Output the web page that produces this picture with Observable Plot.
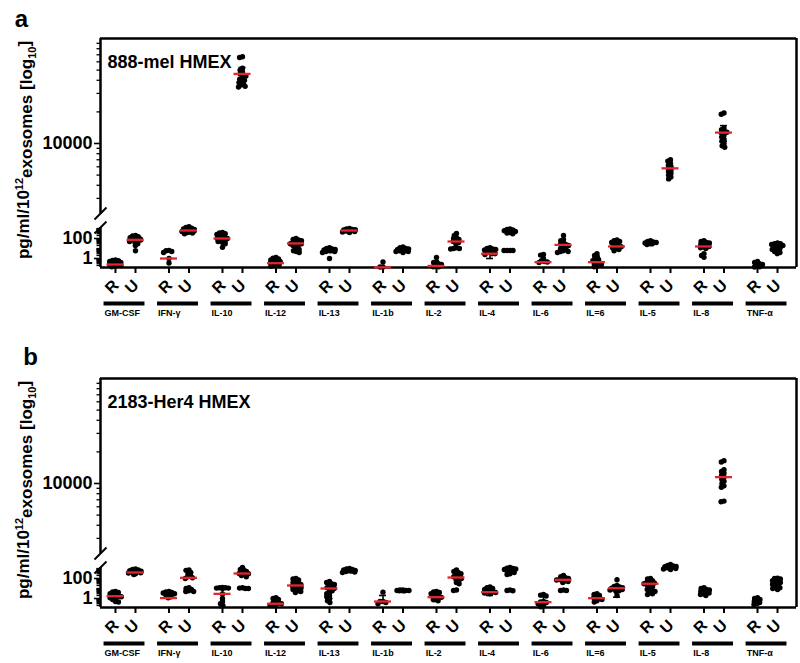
<!DOCTYPE html>
<html><head><meta charset="utf-8">
<script src="https://cdn.jsdelivr.net/npm/d3@7"></script>
<script src="https://cdn.jsdelivr.net/npm/@observablehq/plot@0.6"></script>
<style>
body{margin:0;background:#fff;font-family:"Liberation Sans",Arial,sans-serif}
#chart{width:800px}
#chart svg{display:block}
</style>
</head><body><div id="chart"></div>
<script>
// ---------- data ----------
const cytokines = ["GM-CSF","IFN-γ","IL-10","IL-12","IL-13","IL-1b","IL-2","IL-4","IL-6","IL=6","IL-5","IL-8","TNF-α"];
const groups = ["R","U"];
const panelLetters = ["a","b"];
const panelTitles = ["888-mel HMEX","2183-Her4 HMEX"];
const yLabelParts = ["pg/ml/10", "12", "exosomes [log", "10", "]"];
const yMajorTicks = [1, 100, 10000];
const yMajorLabels = ["1", "100", "10000"];
const yMinorTicks = [0.2,0.3,0.4,0.5,0.6,0.7,0.8,0.9,2,3,4,5,6,7,8,9,10,20,30,40,50,60,70,80,90,200,300,400,500,600,700,800,900,1000,
  3000,4000,5000,6000,7000,8000,9000,20000,30000,40000,50000,60000,70000,80000,90000];

// panel a : 888-mel HMEX
const melR = [
 [0.7,0.65,0.6,0.5,0.4,0.35,0.3,0.25,0.25,0.2,0.18,0.15],
 [6.5,6,5,4,1.0,0.35],
 [400,350,300,250,200,150,120,100,100,90,80,70,60,50,40,30,13],
 [1.3,1.1,0.9,0.7,0.6,0.5,0.4,0.35,0.3,0.25,0.2,0.17],
 [12,10,9,8,7,6,6,5,5,4,1],
 [0.45,0.14,0.14],
 [1.3,0.5,0.4,0.3,0.25,0.2,0.15,0.15],
 [12,10,9,8,7,5,4,3,3,2.5],
 [2.5,2.2,1.0,0.6,0.5,0.45,0.4],
 [3,2,1.5,1,0.8,0.6,0.5,0.4,0.3,0.25,0.2,0.15],
 [60,50,45,40,35,30,30,25],
 [60,50,40,35,30,25,20,16,15,12,10,3,2,1.3],
 [0.5,0.4,0.3,0.25,0.2,0.15,0.14]
];
const melU = [
 [200,180,150,120,100,90,80,75,70,60,50,40,30,20,6],
 [1500,1300,1100,900,800,700,650,600,550,500,450,400,350,300],
 [67000,66000,52000,50000,48000,46000,45000,44000,42000,41000,40000,39000,38000,37000,36000,35000,34500],
 [100,80,70,60,50,40,35,30,30,25,20,15,10,8,6,5,4],
 [1000,900,800,750,700,650,600,550,500,450,400],
 [14,12,10,9,8,7,6,6,5,5,4],
 [320,200,120,100,80,60,50,40,30,12,10,10,9],
 [900,800,700,600,500,400,350,300,6.3,6.3,6.3,6.3],
 [200,80,60,40,30,25,20,12,10,8,6,5,5,4],
 [70,60,50,40,30,20,16,15,12,10,8,6],
 [7000,6800,6500,6200,6000,5800,5600,5400,5200,5000,4800,4600],
 [19500,19000,14000,13500,13000,12800,12500,12000,11500,11000,10500,10000,9500,9200],
 [35,30,30,25,20,15,12,10,8,6,5,4,3]
];
const melRmed = [0.25,1.0,100,0.34,null,0.13,0.18,3,0.43,0.43,null,16,null];
const melUmed = [74,630,46000,32,630,null,50,null,23,16,5800,12700,null];
const melRerr = [null,null,null,null,null,null,null,[1,8],null,null,null,null,null];
const melUerr = [null,null,[39000,53000],null,null,null,null,null,null,null,null,[10500,14800],null];

// panel b : 2183-Her4 HMEX
const herR = [
 [5,4.5,4,3,2,1.8,1.6,1.5,1.2,1.0,0.8,0.5,0.45],
 [5,4.5,4,3.5,3,2.5,2,1.5,1.2],
 [13,12,12,11,11,10,2.9,1,0.5,0.3,0.2],
 [1.2,1.0,0.8,0.5,0.4,0.35,0.3,0.25,0.2,0.2],
 [50,40,30,25,20,15,12,10,8,6,4,3,2,1.5,1,0.6,0.4],
 [4.3,0.5,0.5,0.4,0.3],
 [5,4.5,4,3,2.5,2,1.5,1.3,1,0.8,0.6],
 [14,12,10,8,6,5,4.5,4,3.5,3],
 [2.5,2.2,1.8,0.5,0.45,0.4,0.3,0.2,0.15],
 [3,2.5,2,1.5,1.2,1.0,0.8,0.6,0.45],
 [100,90,60,50,40,35,30,25,20,15,10,8,6,5,4,3,2.5],
 [12,10,8,7,6,5,4,3.5,3,2.5,2],
 [1.2,1.0,0.8,0.6,0.5,0.4,0.3,0.25]
];
const herU = [
 [900,800,700,600,550,500,450,400,380,350,300,250],
 [700,650,400,300,200,150,120,100,12,10,8,6,5,5],
 [1300,800,700,500,400,320,300,250,200,150,12,11,10,10],
 [100,90,70,50,40,30,25,20,18,15,12,10,8,6,5,4],
 [1000,900,800,700,650,600,550,500,450,400],
 [7,7,6.5,6.3,6.3,6,6,6],
 [700,500,400,300,200,150,120,100,80,60,40,30,7,6.3],
 [1300,1100,1000,900,800,700,600,500,400,300,250,7,6.3,6],
 [200,150,120,100,90,80,70,60,50,40,7,6.3,6.3],
 [75,20,16,14,12,11,10,9,8,7,6,5,2],
 [2500,2000,1800,1600,1500,1400,1300,1200,1000,900,800],
 [16500,16000,13500,13000,12500,12000,11500,11000,10500,10000,9500,9200,6800,6700],
 [110,100,90,60,50,40,30,25,20,15,12,10,8]
];
const herRmed = [1.7,1.1,2.9,0.3,10,0.5,1.35,4.3,0.43,1.07,30,null,null];
const herUmed = [400,117,316,20,null,null,126,null,74,10.7,null,11500,null];
const herRerr = [null,null,[0.13,12],null,[1,30],[0.5,2],[0.5,3],[2,8],[0.13,1.5],null,null,null,null];
const herUerr = [null,null,null,null,null,null,null,null,null,[1.35,20],null,null,null];

// ---------- broken log axis ----------
const LOW_MIN_LOG = -0.9, LOW_PX = 10;          // lower segment: 10 px per decade
const GAP_BOTTOM = 40, GAP_TOP = 54;            // axis break
const HIGH_MIN_LOG = Math.log10(2154), HIGH_PX = 105;
const Y_MAX = GAP_TOP + (5 - HIGH_MIN_LOG) * HIGH_PX;
const T = v => v < 3000 ? (Math.log10(v) - LOW_MIN_LOG) * LOW_PX
                        : GAP_TOP + (Math.log10(v) - HIGH_MIN_LOG) * HIGH_PX;

const X_MIN = -0.467, X_MAX = 12.542;
const PX_PER_CAT = 53.5;
const GRP_OFF = {R: -10 / PX_PER_CAT, U: 10 / PX_PER_CAT};
const RED = "#e3262f";
const SWARM_SEP = 3.0, SWARM_MAX = 7;

function swarm(ts, sep, maxOff) {
  const placed = [], out = [];
  for (const t of ts) {
    const iv = [];
    for (const p of placed) {
      const d = Math.abs(p.t - t);
      if (d < sep) { const h = Math.sqrt(sep * sep - d * d); iv.push([p.x - h, p.x + h]); }
    }
    const cands = [0]; iv.forEach(([a, b]) => cands.push(a, b));
    cands.sort((a, b) => Math.abs(a) - Math.abs(b));
    let x = null;
    for (const c of cands) {
      if (Math.abs(c) > maxOff) break;
      if (iv.every(([a, b]) => c <= a + 1e-9 || c >= b - 1e-9)) { x = c; break; }
    }
    if (x === null) x = (placed.length % 2 ? -1 : 1) * maxOff * ((placed.length % 5) / 4);
    placed.push({t, x}); out.push(x);
  }
  return out;
}

const majorT = yMajorTicks.map(T);
const labelOf = new Map(majorT.map((t, i) => [t, yMajorLabels[i]]));
const tickRows = [];
cytokines.forEach((c, i) => groups.forEach(g => tickRows.push({x: i + GRP_OFF[g], grp: g})));
const yLabelPlain = yLabelParts.join("");

function panel(k, R, U, Rmed, Umed, Rerr, Uerr, height, letterDx, letterDy) {
  const dots = [], meds = [], errs = [];
  const add = (vals, med, err, g) => vals.forEach((arr, i) => {
    const cx = i + GRP_OFF[g];
    const ts = arr.map(T);
    const offs = swarm(ts, SWARM_SEP, SWARM_MAX);
    ts.forEach((t, j) => dots.push({x: cx + offs[j] / PX_PER_CAT, t}));
    if (med[i] != null) meds.push({x: cx, t: T(med[i])});
    if (err[i] != null) errs.push({x: cx, t1: T(err[i][0]), t2: T(err[i][1])});
  });
  add(R, Rmed, Rerr, "R");
  add(U, Umed, Uerr, "U");
  const cap = 3.5 / PX_PER_CAT, half = 8.5 / PX_PER_CAT, sl = 6 / PX_PER_CAT;
  const svg = Plot.plot({
    width: 800, height,
    marginLeft: 100, marginRight: 4, marginTop: 38, marginBottom: height - 267,
    style: {fontFamily: "'Liberation Sans', Arial, sans-serif", background: "#fff"},
    x: {domain: [X_MIN, X_MAX]},
    y: {domain: [0, Y_MAX]},
    marks: [
      Plot.axisY({ticks: yMinorTicks.map(T), tickSize: 3.5, tickFormat: () => "", label: null, strokeWidth: 1.3}),
      Plot.axisY({ticks: majorT, tickSize: 6, tickPadding: 2, tickFormat: d => labelOf.get(d), label: null,
                  fontSize: 18, fontWeight: "bold", strokeWidth: 1.6}),
      Plot.axisX({ticks: tickRows.map(d => d.x), tickSize: 6, tickFormat: () => "", label: null, strokeWidth: 2}),
      Plot.ruleX([{y1: 0, y2: GAP_BOTTOM}, {y1: GAP_TOP, y2: Y_MAX}], {x: () => X_MIN, y1: "y1", y2: "y2", strokeWidth: 2.5}),
      Plot.link([GAP_BOTTOM, GAP_TOP], {x1: () => X_MIN - sl, x2: () => X_MIN + sl, y1: d => d - 6, y2: d => d + 6, strokeWidth: 2}),
      Plot.ruleY([0], {strokeWidth: 2.6}),
      Plot.ruleY([Y_MAX], {strokeWidth: 2.5}),
      Plot.ruleX([X_MAX], {strokeWidth: 2.5}),
      Plot.text(tickRows, {x: "x", text: "grp", frameAnchor: "bottom", dy: 23, rotate: -45, fontSize: 16, fontWeight: "bold"}),
      Plot.link(cytokines, {x1: (d, i) => i - 0.41, x2: (d, i) => i + 0.355, y1: () => 0, y2: () => 0, dy: 36, strokeWidth: 4}),
      Plot.text(cytokines, {x: (d, i) => i - 0.39, text: d => d, frameAnchor: "bottom", dy: 48, textAnchor: "start", fontSize: 9, fontWeight: "bold"}),
      Plot.ruleX(errs, {x: "x", y1: "t1", y2: "t2", strokeWidth: 1.6}),
      Plot.ruleY(errs, {y: "t1", x1: d => d.x - cap, x2: d => d.x + cap, strokeWidth: 1.6}),
      Plot.ruleY(errs, {y: "t2", x1: d => d.x - cap, x2: d => d.x + cap, strokeWidth: 1.6}),
      Plot.dot(dots, {x: "x", y: "t", r: 2.7, fill: "black"}),
      Plot.ruleY(meds, {y: "t", x1: d => d.x - half, x2: d => d.x + half, stroke: RED, strokeWidth: 2.3}),
      Plot.text([panelTitles[k]], {text: d => d, frameAnchor: "top-left", dx: 7, dy: 17, textAnchor: "start", fontSize: 18, fontWeight: "bold"}),
      Plot.text([panelLetters[k]], {text: d => d, frameAnchor: "top-left", dx: letterDx, dy: letterDy, textAnchor: "middle", fontSize: 24, fontWeight: "bold"}),
      Plot.text([yLabelPlain], {text: d => d, frameAnchor: "left", dx: -77, dy: -3, rotate: -90, textAnchor: "middle", fontSize: 17, fontWeight: "bold"})
    ]
  });
  // rich text for the axis title: superscript 12, subscript 10
  d3.select(svg).selectAll("text").filter(function() { return this.textContent === yLabelPlain; }).each(function() {
    const t = d3.select(this); t.text(null);
    yLabelParts.forEach((p, i) => {
      const ts = t.append("tspan").text(p);
      if (i === 1) ts.attr("font-size", 11).attr("dy", "-0.55em");
      if (i === 2) ts.attr("dy", "0.55em");
      if (i === 3) ts.attr("font-size", 11).attr("dy", "0.3em");
      if (i === 4) ts.attr("dy", "-0.3em");
    });
  });
  return svg;
}

const root = document.getElementById("chart");
root.append(panel(0, melR, melU, melRmed, melUmed, melRerr, melUerr, 340, -79, -29));
root.append(panel(1, herR, herU, herRmed, herUmed, herRerr, herUerr, 323, -70, -31));
</script>
</body></html>
